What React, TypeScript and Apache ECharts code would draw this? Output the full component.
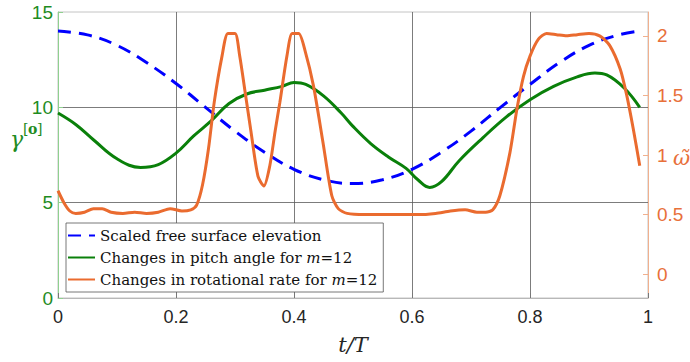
import React, { useEffect, useRef } from 'react';
import * as echarts from 'echarts';

// t/T sample positions and values
const T_BLUE = [0, 0.05, 0.1, 0.15, 0.2, 0.25, 0.3, 0.35, 0.4, 0.45, 0.5, 0.55, 0.6, 0.65, 0.7, 0.75, 0.8, 0.85, 0.9, 0.95, 0.986];
const BLUE = [14.0, 13.8, 13.25, 12.35, 11.25, 10.0, 8.75, 7.65, 6.75, 6.2, 6.0, 6.2, 6.75, 7.65, 8.75, 10.0, 11.2, 12.35, 13.25, 13.8, 14.0];

const T_GREEN = [0, 0.03, 0.06, 0.1, 0.14, 0.17, 0.2, 0.23, 0.26, 0.29, 0.32, 0.35, 0.38, 0.4, 0.42, 0.45, 0.48, 0.5, 0.53, 0.56, 0.59, 0.61, 0.63, 0.65, 0.68, 0.72, 0.76, 0.8, 0.84, 0.88, 0.91, 0.93, 0.96, 0.986];
const GREEN = [9.7, 9.1, 8.3, 7.3, 6.85, 7.0, 7.6, 8.5, 9.3, 10.2, 10.7, 10.9, 11.1, 11.3, 11.2, 10.6, 9.7, 9.0, 8.1, 7.4, 6.8, 6.2, 5.8, 6.1, 7.2, 8.4, 9.5, 10.4, 11.1, 11.6, 11.8, 11.7, 11.0, 10.0];

const T_ORANGE = [0, 0.01, 0.02, 0.03, 0.045, 0.06, 0.075, 0.09, 0.11, 0.13, 0.15, 0.17, 0.19, 0.21, 0.225, 0.235, 0.245, 0.255, 0.265, 0.278, 0.288, 0.3, 0.308, 0.318, 0.327, 0.339, 0.349, 0.359, 0.368, 0.376, 0.388, 0.397, 0.408, 0.419, 0.433, 0.449, 0.464, 0.475, 0.49, 0.52, 0.55, 0.58, 0.61, 0.64, 0.665, 0.69, 0.71, 0.725, 0.737, 0.749, 0.766, 0.778, 0.789, 0.8, 0.814, 0.828, 0.845, 0.862, 0.88, 0.9, 0.918, 0.935, 0.953, 0.964, 0.975, 0.986];
const ORANGE = [0.7, 0.6, 0.53, 0.51, 0.52, 0.55, 0.55, 0.52, 0.51, 0.52, 0.51, 0.52, 0.55, 0.53, 0.54, 0.58, 0.75, 1.05, 1.45, 1.83, 2.02, 2.02, 1.83, 1.5, 1.2, 0.82, 0.74, 0.91, 1.2, 1.44, 1.83, 2.02, 2.02, 1.87, 1.58, 1.11, 0.66, 0.55, 0.51, 0.5, 0.5, 0.5, 0.5, 0.51, 0.53, 0.54, 0.52, 0.52, 0.54, 0.66, 1.02, 1.39, 1.66, 1.83, 1.97, 2.02, 2.01, 2.0, 2.01, 2.02, 2.0, 1.92, 1.72, 1.5, 1.22, 0.91];

const NAMES = ['Scaled free surface elevation', 'Changes in pitch angle for m=12', 'Changes in rotational rate for m=12'];

const C_BLUE = '#0000ff';
const C_GREEN = '#0a800a';
const C_ORANGE = '#ea6b2f';
const C_GREEN_TXT = '#1f8c1f';
const C_ORANGE_TXT = '#e8703a';

const zip = (t: number[], v: number[]) => t.map((x, i) => [x, v[i]]);

export default function App() {
  const ref = useRef<HTMLDivElement>(null);
  useEffect(() => {
    if (!ref.current) return;
    const chart = echarts.init(ref.current, undefined, { renderer: 'svg' });
    const sans = 'Liberation Sans';
    const serif = 'DejaVu Serif';
    chart.setOption({
      animation: false,
      backgroundColor: '#fff',
      grid: { left: 58, right: 42, top: 12, bottom: 64, show: true, borderColor: '#c4c4c4', borderWidth: 1, outerBoundsMode: 'none' },
      xAxis: {
        type: 'value', min: 0, max: 1, interval: 0.2,
        name: 't/T', nameLocation: 'middle', nameGap: 36,
        nameTextStyle: { fontFamily: serif, fontStyle: 'italic', fontSize: 21, color: '#262626' },
        axisLine: { show: true, lineStyle: { color: '#b8b8b8', width: 1 } },
        axisTick: { show: true, inside: true, length: 5, lineStyle: { color: '#777' } },
        axisLabel: { fontFamily: sans, fontSize: 18, color: '#262626', margin: 10, formatter: (v: number) => String(Math.round(v * 10) / 10) },
        splitLine: { show: true, showMinLine: false, showMaxLine: false, lineStyle: { color: '#5a5a5a', width: 0.8 } },
      },
      yAxis: [
        {
          type: 'value', min: 0, max: 15, interval: 5, position: 'left',
          axisLine: { show: true, lineStyle: { color: '#8fd08f', width: 1 } },
          axisTick: { show: true, inside: true, length: 5, lineStyle: { color: '#8fd08f' } },
          axisLabel: { fontFamily: sans, fontSize: 19, color: C_GREEN_TXT, margin: 5 },
          splitLine: { show: true, showMinLine: false, showMaxLine: false, lineStyle: { color: '#5a5a5a', width: 0.8 } },
        },
        {
          type: 'value', min: -0.2, max: 2.2, position: 'right',
          axisLine: { show: true, lineStyle: { color: '#f0b08e', width: 1 } },
          axisTick: { show: true, inside: true, length: 5, lineStyle: { color: '#f0b08e' } },
          axisLabel: { fontFamily: sans, fontSize: 19, color: C_ORANGE_TXT, margin: 9, showMinLabel: false, showMaxLabel: false },
          splitLine: { show: false },
        },
      ],
      legend: {
        orient: 'vertical', left: 66, top: 223,
        data: NAMES,
        backgroundColor: '#fff', borderColor: '#555', borderWidth: 0.8, borderRadius: 0,
        padding: [5, 6, 5, 1], itemGap: 7, itemWidth: 27, itemHeight: 14,
        itemStyle: { color: 'rgba(0,0,0,0)', borderColor: 'rgba(0,0,0,0)', borderWidth: 0 },
        textStyle: { fontFamily: serif, fontSize: 15, color: '#111', rich: { i: { fontFamily: serif, fontStyle: 'italic', fontSize: 15, color: '#111' } } },
        formatter: (name: string) => name.replace('m=12', '{i|m}=12'),
      },
      series: [
        { name: NAMES[0], type: 'line', yAxisIndex: 0, data: zip(T_BLUE, BLUE), showSymbol: false, symbol: 'none', smooth: 0.4, lineStyle: { color: C_BLUE, width: 3, type: [13, 8] }, itemStyle: { color: C_BLUE } },
        { name: NAMES[1], type: 'line', yAxisIndex: 0, data: zip(T_GREEN, GREEN), showSymbol: false, symbol: 'none', smooth: 0.4, lineStyle: { color: C_GREEN, width: 3 }, itemStyle: { color: C_GREEN } },
        { name: NAMES[2], type: 'line', yAxisIndex: 1, data: zip(T_ORANGE, ORANGE), showSymbol: false, symbol: 'none', smooth: 0.25, lineStyle: { color: C_ORANGE, width: 3 }, itemStyle: { color: C_ORANGE } },
      ],
      graphic: [
        { type: 'text', left: 10, top: 128, style: { text: 'γ', font: `italic 22px "${serif}"`, fill: C_GREEN_TXT } },
        { type: 'text', left: 23, top: 122, style: { text: '[', font: `14px "${serif}"`, fill: C_GREEN_TXT } },
        { type: 'text', left: 28, top: 122, style: { text: 'o', font: `bold 14px "${serif}"`, fill: C_GREEN_TXT } },
        { type: 'text', left: 37, top: 122, style: { text: ']', font: `14px "${serif}"`, fill: C_GREEN_TXT } },
        { type: 'text', left: 673, top: 147, style: { text: 'ω̃', font: `italic 21px "${serif}"`, fill: C_ORANGE_TXT } },
      ],
    });
    return () => chart.dispose();
  }, []);
  return <div ref={ref} style={{ position: 'fixed', left: 0, top: 0, width: 690, height: 362 }} />;
}
